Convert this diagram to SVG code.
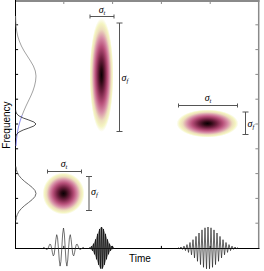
<svg xmlns="http://www.w3.org/2000/svg" width="264" height="271" viewBox="0 0 264 271">
<defs>
<radialGradient id="tf">
<stop offset="0" stop-color="#0a0005"/>
<stop offset="0.12" stop-color="#2a0812"/>
<stop offset="0.3" stop-color="#702040"/>
<stop offset="0.5" stop-color="#b8507a"/>
<stop offset="0.66" stop-color="#d890a8"/>
<stop offset="0.8" stop-color="#ecdcbc"/>
<stop offset="0.9" stop-color="#f4f4c0"/>
<stop offset="1" stop-color="#ffffff"/>
</radialGradient>
</defs>
<style>
.ax{stroke:#000;stroke-width:1;fill:none}
.axg{stroke:#8a8a8a;fill:none}
.bar{stroke:#555;stroke-width:1;fill:none}
.sig{font-family:"Liberation Serif",serif;font-style:italic;font-size:10px;fill:#000}
.lab{font-family:"Liberation Sans",Arial,sans-serif;font-size:10px;fill:#000}
.wv{fill:none;stroke-linejoin:round}
</style>
<rect width="264" height="271" fill="#fff"/>
<g id="axes">
<line class="axg" x1="15" y1="1" x2="259.5" y2="1" stroke-width="2"/>
<line class="axg" x1="258.7" y1="0" x2="258.7" y2="248.5" stroke-width="1.5"/>
<line class="ax" x1="15.5" y1="0" x2="15.5" y2="248.5"/>
<line class="ax" x1="15" y1="248.5" x2="259.5" y2="248.5"/>
<path class="ax" d="M15.5,24.8h2.6M15.5,49.6h2.6M15.5,74.4h2.6M15.5,99.2h2.6M15.5,124h2.6M15.5,148.8h2.6M15.5,173.6h2.6M15.5,198.4h2.6M15.5,223.2h2.6"/>
<path class="axg" stroke-width="1" d="M258,24.8h-2.6M258,49.6h-2.6M258,74.4h-2.6M258,99.2h-2.6M258,124h-2.6M258,148.8h-2.6M258,173.6h-2.6M258,198.4h-2.6M258,223.2h-2.6"/>
<path class="axg" stroke-width="1" d="M63.8,1v3M112.6,1v3M161.4,1v3M210.2,1v3"/>
<path class="ax" d="M63.8,248.5v-2.6M112.6,248.5v-2.6M161.4,248.5v-2.6M210.2,248.5v-2.6"/>
<text class="lab" x="129" y="262">Time</text>
<text class="lab" transform="translate(10,125) rotate(-90)" text-anchor="middle">Frequency</text>
</g>
<g id="marginals">
<polyline class="wv" stroke="#8a8a8a" stroke-width="0.8" points="15.6,16 15.8,21 16.1,26 16.7,31 17.7,36 19.3,41 21.4,46 24.1,51 27.3,56 30.5,61 33.4,66 35.3,71 36,76 35.6,81 34.5,86 32.9,91 30.8,96 28.4,101 26,106 23.8,111 22.2,115"/>
<polyline class="wv" stroke="#6f6fe8" stroke-width="0.8" points="22.2,115 20.1,121 18.7,126 17.7,131 16.9,136 16.4,141 16,146"/>
<polyline class="wv" stroke="#222" stroke-width="0.8" points="15.6,110 15.9,112 16.9,114 19.1,116 23.2,118 28.8,120 33.9,122 36,124 33.9,126 28.8,128 23.2,130 19.1,132 16.9,134 15.9,136 15.6,138"/>
<polyline class="wv" stroke="#444" stroke-width="0.8" points="15.9,166.5 16.3,169.5 17.3,172.5 18.9,175.5 21.4,178.5 24.7,181.5 28.6,184.5 32.3,187.5 35,190.5 36,193.5 35,196.5 32.3,199.5 28.6,202.5 24.7,205.5 21.4,208.5 18.9,211.5 17.3,214.5 16.3,217.5 15.9,220.5"/>
</g>
<g id="atom-tall">
<ellipse cx="101.5" cy="75" rx="12" ry="57" fill="url(#tf)"/>
<path class="bar" d="M90,16.5H114M90,14.5v4M114,14.5v4"/>
<text class="sig" x="102" y="13" text-anchor="middle">σ<tspan font-size="6.5" dy="1.5">t</tspan></text>
<path class="bar" d="M119.5,23V131.5M116.5,23h6M116.5,131.5h6"/>
<text class="sig" x="121.5" y="81">σ<tspan font-size="6.5" dy="1.5">f</tspan></text>
</g>
<g id="atom-wide">
<ellipse cx="207.5" cy="123.5" rx="31" ry="14" fill="url(#tf)"/>
<path class="bar" d="M178.5,105.5H237.5M178.5,103.5v4M237.5,103.5v4"/>
<text class="sig" x="208" y="101" text-anchor="middle">σ<tspan font-size="6.5" dy="1.5">t</tspan></text>
<path class="bar" d="M245.5,112V134.5M242.5,112h6M242.5,134.5h6"/>
<text class="sig" x="247.5" y="127">σ<tspan font-size="6.5" dy="1.5">f</tspan></text>
</g>
<g id="atom-round">
<circle cx="63.5" cy="193.5" r="21" fill="url(#tf)"/>
<path class="bar" d="M47.5,171.5H81.5M47.5,169.5v4M81.5,169.5v4"/>
<text class="sig" x="64" y="167" text-anchor="middle">σ<tspan font-size="6.5" dy="1.5">t</tspan></text>
<path class="bar" d="M89,176.5V210.5M86,176.5h6M86,210.5h6"/>
<text class="sig" x="91" y="195">σ<tspan font-size="6.5" dy="1.5">f</tspan></text>
</g>
<g id="wavelets">
<polyline class="wv" stroke="#333" stroke-width="0.7" points="43.1,247.5 43.95,247.5 44.8,248 45.65,248.8 46.5,249.5 47.35,249.4 48.2,248 49.05,245.8 49.9,244.1 50.75,244.7 51.6,248 52.45,252.8 53.3,255.9 54.15,254.5 55,248 55.85,239.6 56.7,234.7 57.55,237.7 58.4,248 59.25,260 60.1,266.1 60.95,261.4 61.8,248 62.65,234 63.5,228 64.35,234 65.2,248 66.05,261.4 66.9,266.1 67.75,260 68.6,248 69.45,237.7 70.3,234.7 71.15,239.6 72,248 72.85,254.5 73.7,255.9 74.55,252.8 75.4,248 76.25,244.7 77.1,244.1 77.95,245.8 78.8,248 79.65,249.4 80.5,249.5 81.35,248.8 82.2,248 83.05,247.5 83.9,247.5"/>
<polygon fill="#333" fill-opacity="0.55" points="89.5,247.4 90.5,246.9 91.5,246.2 92.5,245.2 93.5,243.7 94.5,241.7 95.5,239.4 96.5,236.7 97.5,233.9 98.5,231.2 99.5,229 100.5,227.5 101.5,227 102.5,227.5 103.5,229 104.5,231.2 105.5,233.9 106.5,236.7 107.5,239.4 108.5,241.7 109.5,243.7 110.5,245.2 111.5,246.2 112.5,246.9 113.5,247.4 113.5,248.6 112.5,249.1 111.5,249.8 110.5,250.8 109.5,252.3 108.5,254.3 107.5,256.6 106.5,259.3 105.5,262.1 104.5,264.8 103.5,267 102.5,268.5 101.5,269 100.5,268.5 99.5,267 98.5,264.8 97.5,262.1 96.5,259.3 95.5,256.6 94.5,254.3 93.5,252.3 92.5,250.8 91.5,249.8 90.5,249.1 89.5,248.6"/>
<polyline class="wv" stroke="#111" stroke-width="0.8" points="89.5,247.4 90.5,249.1 91.5,246.2 92.5,250.8 93.5,243.7 94.5,254.3 95.5,239.4 96.5,259.3 97.5,233.9 98.5,264.8 99.5,229 100.5,268.5 101.5,227 102.5,268.5 103.5,229 104.5,264.8 105.5,233.9 106.5,259.3 107.5,239.4 108.5,254.3 109.5,243.7 110.5,250.8 111.5,246.2 112.5,249.1 113.5,247.4"/>
<polyline class="wv" stroke="#222" stroke-width="0.7" points="178,247.5 179.5,248.7 181,247 182.5,249.4 184,246.1 185.5,250.6 187,244.6 188.5,252.4 190,242.5 191.5,254.8 193,239.7 194.5,257.9 196,236.4 197.5,261.3 199,233 200.5,264.6 202,229.9 203.5,267.3 205,227.8 206.5,268.8 208,227 209.5,268.8 211,227.8 212.5,267.3 214,229.9 215.5,264.6 217,233 218.5,261.3 220,236.4 221.5,257.9 223,239.7 224.5,254.8 226,242.5 227.5,252.4 229,244.6 230.5,250.6 232,246.1 233.5,249.4 235,247 236.5,248.7 238,247.5"/>
</g>
</svg>
